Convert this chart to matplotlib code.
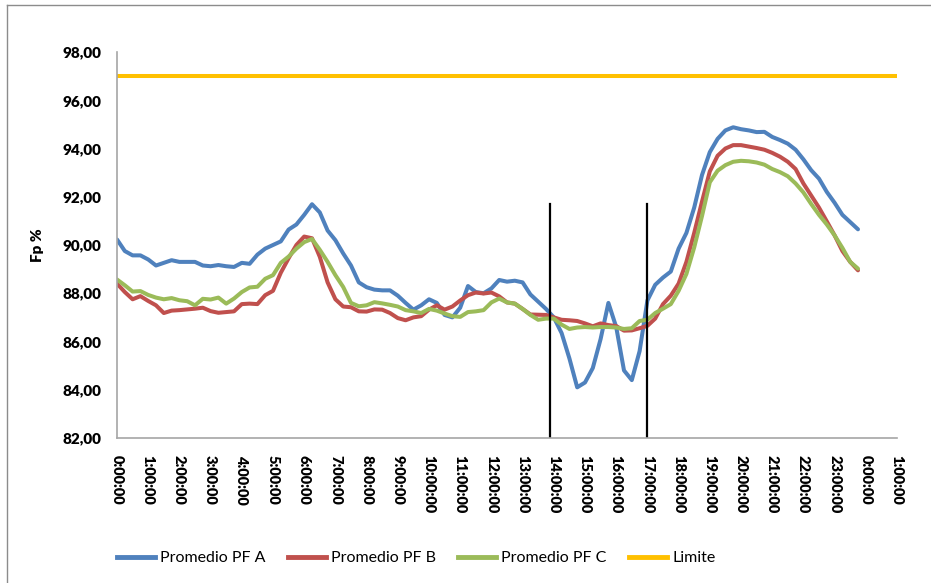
import numpy as np
import matplotlib.pyplot as plt
from matplotlib.lines import Line2D

plt.rcParams['font.family'] = ['Lato', 'DejaVu Sans']

# hora del dia en pasos de 15 minutos
horas = np.arange(96) * 0.25

pf_a = [90.23, 89.75, 89.57, 89.57, 89.40, 89.15, 89.26, 89.37,
        89.30, 89.30, 89.30, 89.15, 89.12, 89.17, 89.12, 89.09,
        89.26, 89.22, 89.60, 89.85, 90.00, 90.15, 90.64, 90.85,
        91.25, 91.69, 91.35, 90.60, 90.20, 89.65, 89.15, 88.45,
        88.25, 88.15, 88.12, 88.12, 87.90, 87.60, 87.32, 87.50,
        87.75, 87.60, 87.10, 87.00, 87.40, 88.30, 88.05, 88.00,
        88.20, 88.55, 88.48, 88.52, 88.45, 87.95, 87.65, 87.35,
        87.00, 86.35, 85.30, 84.10, 84.30, 84.90, 86.10, 87.60,
        86.60, 84.80, 84.40, 85.60, 87.70, 88.35, 88.65, 88.90,
        89.85, 90.50, 91.55, 92.90, 93.85, 94.40, 94.75, 94.88,
        94.80, 94.75, 94.68, 94.69, 94.48, 94.35, 94.20, 93.95,
        93.55, 93.10, 92.75, 92.20, 91.75, 91.25, 90.95, 90.65]

pf_b = [88.40, 88.05, 87.75, 87.88, 87.68, 87.50, 87.18, 87.28,
        87.30, 87.33, 87.36, 87.40, 87.26, 87.19, 87.22, 87.25,
        87.55, 87.57, 87.55, 87.92, 88.10, 88.85, 89.45, 90.00,
        90.35, 90.28, 89.51, 88.45, 87.75, 87.45, 87.42, 87.25,
        87.24, 87.33, 87.32, 87.18, 86.97, 86.88, 87.00, 87.05,
        87.32, 87.50, 87.32, 87.45, 87.70, 87.92, 88.03, 87.99,
        88.03, 87.87, 87.62, 87.57, 87.35, 87.12, 87.11, 87.10,
        87.00, 86.90, 86.88, 86.85, 86.75, 86.63, 86.75, 86.68,
        86.64, 86.45, 86.46, 86.55, 86.65, 86.95, 87.55, 87.90,
        88.40, 89.30, 90.50, 91.80, 93.05, 93.70, 94.00, 94.14,
        94.14, 94.08, 94.02, 93.95, 93.82, 93.66, 93.45, 93.15,
        92.55, 92.05, 91.55, 90.98, 90.40, 89.75, 89.30, 88.95]

pf_c = [88.57, 88.33, 88.07, 88.09, 87.93, 87.82, 87.75, 87.80,
        87.71, 87.67, 87.50, 87.77, 87.74, 87.82, 87.57, 87.78,
        88.05, 88.24, 88.27, 88.60, 88.75, 89.26, 89.52, 89.85,
        90.12, 90.25, 89.80, 89.30, 88.75, 88.26, 87.60, 87.46,
        87.50, 87.63, 87.58, 87.52, 87.45, 87.30, 87.25, 87.18,
        87.35, 87.28, 87.16, 87.05, 87.02, 87.22, 87.25, 87.30,
        87.62, 87.78, 87.62, 87.57, 87.35, 87.10, 86.90, 86.95,
        86.95, 86.70, 86.52, 86.58, 86.60, 86.58, 86.60, 86.60,
        86.58, 86.52, 86.55, 86.85, 86.90, 87.18, 87.36, 87.55,
        88.10, 88.80, 89.90, 91.20, 92.60, 93.08, 93.31, 93.45,
        93.49, 93.47, 93.42, 93.33, 93.15, 93.02, 92.85, 92.55,
        92.18, 91.70, 91.25, 90.85, 90.40, 89.88, 89.30, 89.02]

limite = 97.0
limite_x = [0, 25]

# ventana de punta marcada con lineas verticales
punta = [13.88, 17.0]
punta_tope = 91.7

etiquetas_x = ['%d:00:00' % (h % 24) for h in range(26)]
ticks_y = np.arange(82, 99, 2)

azul = '#4F81BD'
rojo = '#C0504D'
verde = '#9BBB59'
amarillo = '#FFC000'

fig = plt.figure(figsize=(9.31, 5.83), dpi=100)
ax = fig.add_axes([117 / 931, 1 - 438 / 583, 780 / 931, 386 / 583])

lw = 2.9
estilo = dict(lw=lw, solid_capstyle='round', solid_joinstyle='round')
ax.plot(horas, pf_a, color=azul, label='Promedio PF A', **estilo)
ax.plot(horas, pf_b, color=rojo, label='Promedio PF B', **estilo)
ax.plot(horas, pf_c, color=verde, label='Promedio PF C', **estilo)
ax.plot(limite_x, [limite, limite], color=amarillo, lw=lw, label='Limite')

for xv in punta:
    ax.plot([xv, xv], [82, punta_tope], color='black', lw=1.6)

ax.set_xlim(0, 25)
ax.set_ylim(82, 98)
ax.set_xticks(range(26))
ax.set_xticklabels(etiquetas_x, rotation=270, fontsize=10.5, fontweight='heavy')
ax.set_yticks(ticks_y)
ax.set_yticklabels([('%.2f' % v).replace('.', ',') for v in ticks_y],
                   fontsize=11, fontweight='heavy')
ax.tick_params(length=0, pad=11.5)
ax.tick_params(axis='x', pad=12)
ax.set_ylabel('Fp %', fontsize=11, fontweight='heavy', labelpad=13)

for s in ['top', 'right']:
    ax.spines[s].set_visible(False)
for s in ['left', 'bottom']:
    ax.spines[s].set_color('#A6A6A6')
    ax.spines[s].set_linewidth(1.2)

handles = [Line2D([], [], color=c, lw=3.5) for c in (azul, rojo, verde, amarillo)]
fig.legend(handles, ['Promedio PF A', 'Promedio PF B', 'Promedio PF C', 'Limite'],
           loc='center', bbox_to_anchor=(416 / 931, 1 - 558 / 583), ncol=4,
           frameon=False, fontsize=11.5, handlelength=2.4, handletextpad=0.3,
           columnspacing=1.4)

# borde del area del grafico
fig.add_artist(Line2D([7 / 931, 7 / 931], [0, 1 - 5 / 583], color='#8C8C8C', lw=1.0,
                      transform=fig.transFigure))
fig.add_artist(Line2D([7 / 931, 1], [1 - 5 / 583, 1 - 5 / 583], color='#8C8C8C', lw=1.0,
                      transform=fig.transFigure))

fig.savefig('out.png', dpi=100)
